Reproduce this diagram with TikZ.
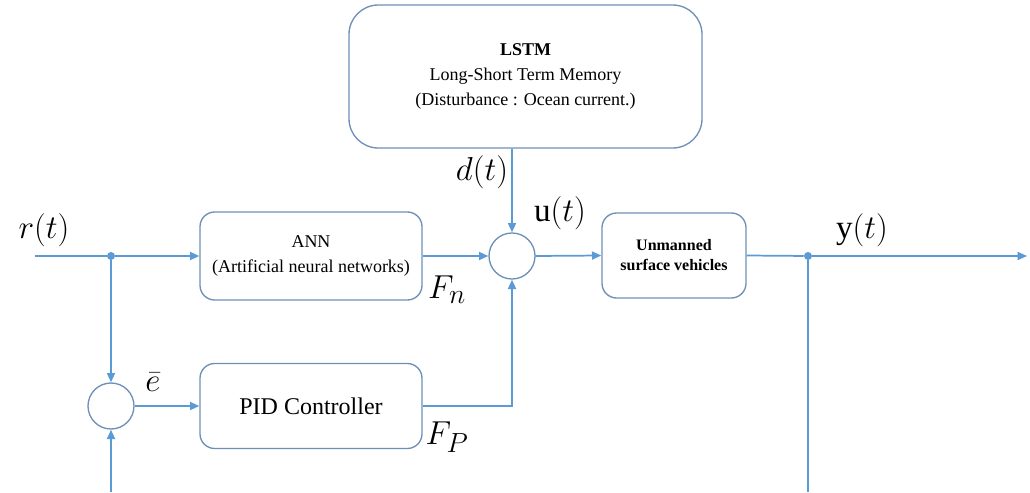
\documentclass[tikz,border=0pt]{standalone}
\usepackage{fontspec}
\setmainfont{LiberationSerif}[Extension=.ttf, UprightFont=*-Regular, BoldFont=*-Bold, ItalicFont=*-Italic, BoldItalicFont=*-BoldItalic]
\usetikzlibrary{arrows.meta}
\definecolor{linec}{RGB}{91,155,213}
\definecolor{boxc}{RGB}{110,143,184}
\begin{document}
\begin{tikzpicture}[x=0.75pt,y=-0.75pt,
  blk/.style={draw=boxc, line width=1pt, rounded corners=11pt, align=center, inner sep=0pt},
  sumc/.style={draw=boxc, line width=1pt, circle, minimum size=34.5pt, inner sep=0pt},
  conn/.style={draw=linec, line width=1.3pt, -{Triangle[length=7pt,width=6pt]}},
  wire/.style={draw=linec, line width=1.3pt},
  lbl/.style={font=\fontsize{24.88}{28}\selectfont, inner sep=0pt},
  junc/.style={circle, fill=linec, inner sep=0pt, minimum size=6pt}]
\useasboundingbox (0,0) rectangle (1030,492);

\node[blk, minimum width=264.75pt, minimum height=107.25pt, rounded corners=22pt,
      font=\fontsize{13.5}{19}\selectfont] (lstm) at (525.5,76.5)
      {\textbf{LSTM}\\Long-Short Term Memory\\(Disturbance : Ocean current.)};
\node[blk, minimum width=166.5pt, minimum height=66pt,
      font=\fontsize{13.5}{19}\selectfont] (ann) at (311,256)
      {ANN\\(Artificial neural networks)};
\node[blk, minimum width=166.5pt, minimum height=63.75pt,
      font=\fontsize{18}{22}\selectfont] (pid) at (311,406) {PID Controller};
\node[blk, minimum width=108pt, minimum height=63.75pt,
      font=\bfseries\fontsize{12}{15}\selectfont] (usv) at (674,255.5)
      {Unmanned\\surface vehicles};

\node[sumc] (sum) at (512,256) {};
\node[sumc] (sum2) at (111,406) {};

\node[junc] (j1) at (111,256) {};
\node[junc] (j2) at (808,256) {};

\coordinate (rin) at (35,256);
\coordinate (yout) at (1027,256);
\coordinate (fbot) at (808,492);
\coordinate (fbot2) at (111,492);

\draw[wire] (rin) -- (j1);
\draw[conn] (j1) -- (ann.west);
\draw[conn] (ann.east) -- (sum.west);
\draw[conn] (sum.east) -- (usv.west);
\draw[wire] (usv.east) -- (j2);
\draw[conn] (j2) -- (yout);
\draw[wire] (j2) -- (fbot);
\draw[conn] (j1) -- (sum2.north);
\draw[conn] (sum2.east) -- (pid.west);
\draw[conn] (pid.east) -| (sum.south);
\draw[conn] (fbot2) -- (sum2.south);
\draw[conn] (sum |- lstm.south) -- (sum.north);

\node[lbl] (rl) at (44,230) {$r(t)$};
\node[lbl] (dl) at (482,172) {$d(t)$};
\node[lbl] (ul) at (560,213) {$\mathrm{u}(t)$};
\node[lbl] (yl) at (862,230) {$\mathrm{y}(t)$};
\node[lbl] (fn) at (447,290) {$F_n$};
\node[lbl] (fp) at (447,437) {$F_P$};
\node[lbl] (el) at (153,382) {$\bar{e}$};
\end{tikzpicture}
\end{document}
